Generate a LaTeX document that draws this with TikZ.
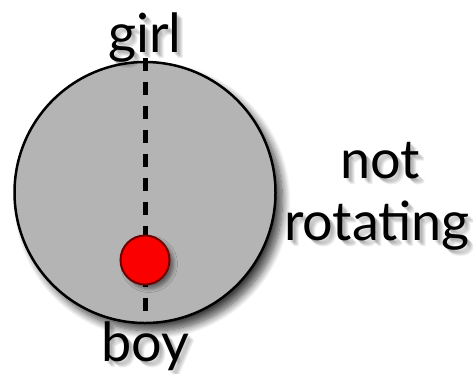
\documentclass[tikz,border=0pt]{standalone}
\usepackage{fontspec}
\setmainfont{Lato}
\usetikzlibrary{shadows.blur}
\definecolor{discgray}{RGB}{180,180,180}
\definecolor{dotred}{RGB}{250,0,0}
\definecolor{dotedge}{RGB}{110,0,0}
\tikzset{
  lbl/.style={inner sep=0pt, anchor=base, font=\fontsize{54}{54}\selectfont, text=black},
  lblshadow/.style={lbl, text=black, opacity=0.07},
  disc/.style={circle, fill=discgray, draw=black, line width=2.5pt, minimum size=261pt, inner sep=0pt,
    blur shadow={shadow xshift=7pt, shadow yshift=-8pt, shadow blur radius=8pt, shadow blur steps=12, shadow opacity=75}},
  axis/.style={line width=5pt, dash pattern=on 13pt off 11pt, black},
  mass/.style={circle, fill=dotred, draw=dotedge, line width=2pt, minimum size=49pt, inner sep=0pt,
    blur shadow={shadow xshift=4pt, shadow yshift=-4pt, shadow blur radius=4pt, shadow opacity=50}},
}
\newcommand{\shtext}[3]{%
  \foreach \d [count=\k] in {2,3,4,5,6} {
    \node[lblshadow] (#1s\k) at ([xshift=\d pt, yshift=-\d pt]#2) {#3};
  }
  \node[lbl] (#1) at (#2) {#3};
}
\begin{document}
\begin{tikzpicture}[x=1pt,y=-1pt]
\useasboundingbox (0,0) rectangle (473,373);
\node[disc] (d) at (145,192.5) {};
\coordinate (top) at (145,58);
\coordinate (bot) at (145,314);
\draw[axis] (top) -- (bot);
\node[mass] (m) at (145,260) {};
\shtext{girl}{145,52}{girl}
\shtext{boy}{145,361}{boy}
\shtext{not}{380,178}{not}
\shtext{rot}{377,240}{rotating}
\end{tikzpicture}
\end{document}
